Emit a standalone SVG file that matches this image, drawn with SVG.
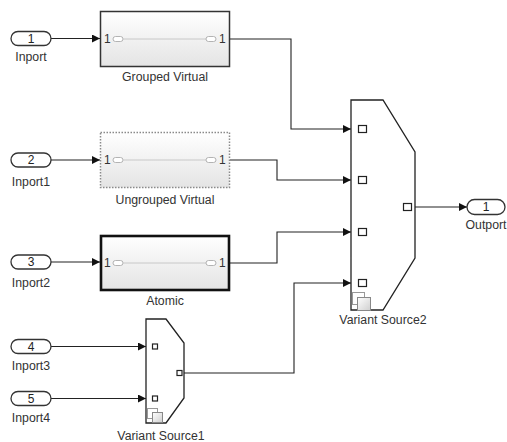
<svg xmlns="http://www.w3.org/2000/svg" width="507" height="442" viewBox="0 0 507 442">
<style>
.lbl{font-family:"Liberation Sans",Arial,sans-serif;font-size:12.3px;fill:#333;text-anchor:middle}
.num{font-family:"Liberation Sans",Arial,sans-serif;font-size:12px;fill:#222;text-anchor:middle}
.pn{font-family:"Liberation Sans",Arial,sans-serif;font-size:12px;fill:#333}
.cap{fill:#fff;stroke:#333;stroke-width:1.3}
.wire{fill:none;stroke:#222;stroke-width:1.1}
.inner{stroke:#c8c8c8;stroke-width:1;fill:none}
.ip{fill:#fff;stroke:#aaa;stroke-width:0.9}
.vs{fill:#fff;stroke:#222;stroke-width:1.3}
.sq{fill:#fff;stroke:#222;stroke-width:1.2}
</style>
<defs>
<linearGradient id="g" x1="0" y1="0" x2="0" y2="1">
<stop offset="0" stop-color="#ffffff"/>
<stop offset="1" stop-color="#e4e4e4"/>
</linearGradient>
<linearGradient id="gi" x1="0" y1="0" x2="1" y2="1">
<stop offset="0" stop-color="#ffffff"/>
<stop offset="1" stop-color="#cfcfcf"/>
</linearGradient>
<marker id="ar" viewBox="0 0 10 10" refX="10" refY="5" markerWidth="9" markerHeight="8" markerUnits="userSpaceOnUse" orient="auto">
<path d="M0,0 L10,5 L0,10 z" fill="#111"/>
</marker>
</defs>

<g id="connectors">
<path class="wire" d="M51,38.5 H100" marker-end="url(#ar)"/>
<path class="wire" d="M51,160 H100" marker-end="url(#ar)"/>
<path class="wire" d="M51,262 H100" marker-end="url(#ar)"/>
<path class="wire" d="M51,346.5 H146" marker-end="url(#ar)"/>
<path class="wire" d="M51,398.5 H146" marker-end="url(#ar)"/>
<path class="wire" d="M230,39 H291 V129 H351" marker-end="url(#ar)"/>
<path class="wire" d="M230,160 H277 V180 H351" marker-end="url(#ar)"/>
<path class="wire" d="M230,263 H277 V232 H351" marker-end="url(#ar)"/>
<path class="wire" d="M182,373 H294 V283 H351" marker-end="url(#ar)"/>
<path class="wire" d="M412,207 H467" marker-end="url(#ar)"/>
</g>

<g id="inport">
<rect class="cap" x="11" y="31.5" width="40" height="14" rx="7"/>
<text class="num" x="31" y="42.5">1</text>
<text class="lbl" x="31" y="61">Inport</text>
</g>
<g id="inport1">
<rect class="cap" x="11" y="153" width="40" height="14" rx="7"/>
<text class="num" x="31" y="164">2</text>
<text class="lbl" x="31" y="186">Inport1</text>
</g>
<g id="inport2">
<rect class="cap" x="11" y="255" width="40" height="14" rx="7"/>
<text class="num" x="31" y="266">3</text>
<text class="lbl" x="31" y="287">Inport2</text>
</g>
<g id="inport3">
<rect class="cap" x="11" y="339.5" width="40" height="14" rx="7"/>
<text class="num" x="31" y="350.5">4</text>
<text class="lbl" x="31" y="370">Inport3</text>
</g>
<g id="inport4">
<rect class="cap" x="11" y="391.5" width="40" height="14" rx="7"/>
<text class="num" x="31" y="402.5">5</text>
<text class="lbl" x="31" y="422">Inport4</text>
</g>

<g id="grouped-virtual">
<rect x="100.5" y="11.5" width="129" height="55" fill="url(#g)" stroke="#333" stroke-width="1.5"/>
<text class="pn" x="104" y="43">1</text>
<rect class="ip" x="113" y="36.5" width="10" height="5" rx="2.5"/>
<line class="inner" x1="123" y1="39" x2="206" y2="39"/>
<rect class="ip" x="206" y="36.5" width="10" height="5" rx="2.5"/>
<text class="pn" x="219" y="43">1</text>
<text class="lbl" x="165" y="81">Grouped Virtual</text>
</g>

<g id="ungrouped-virtual">
<rect x="100.5" y="132.5" width="129" height="55" fill="url(#g)" stroke="#8a8a8a" stroke-width="1.5" stroke-dasharray="1.5,1.5"/>
<text class="pn" x="104" y="164">1</text>
<rect class="ip" x="113" y="157.5" width="10" height="5" rx="2.5"/>
<line class="inner" x1="123" y1="160" x2="206" y2="160"/>
<rect class="ip" x="206" y="157.5" width="10" height="5" rx="2.5"/>
<text class="pn" x="219" y="164">1</text>
<text class="lbl" x="165" y="204">Ungrouped Virtual</text>
</g>

<g id="atomic">
<rect x="101" y="236" width="128" height="54" fill="url(#g)" stroke="#111" stroke-width="2.6"/>
<text class="pn" x="104" y="267">1</text>
<rect class="ip" x="113" y="260.5" width="10" height="5" rx="2.5"/>
<line class="inner" x1="123" y1="263" x2="206" y2="263"/>
<rect class="ip" x="206" y="260.5" width="10" height="5" rx="2.5"/>
<text class="pn" x="219" y="267">1</text>
<text class="lbl" x="165" y="305">Atomic</text>
</g>

<g id="variant-source1">
<polygon class="vs" points="146,319 166,319 184,343 184,398 166,423 146,423"/>
<rect class="sq" x="152.5" y="344" width="5" height="5"/>
<rect class="sq" x="152.5" y="396" width="5" height="5"/>
<rect class="sq" x="177" y="370.5" width="5" height="5"/>
<rect x="147.5" y="408.5" width="10" height="10" fill="#fff" stroke="#999" stroke-width="1"/>
<rect x="152.5" y="412.5" width="10" height="10" fill="url(#gi)" stroke="#888" stroke-width="1"/>
<text class="lbl" x="161" y="440">Variant Source1</text>
</g>

<g id="variant-source2">
<polygon class="vs" points="351,100 383,100 415,152 415,258 383,310 351,310"/>
<rect class="sq" x="358.5" y="125.5" width="8" height="7"/>
<rect class="sq" x="358.5" y="176.5" width="8" height="7"/>
<rect class="sq" x="358.5" y="228.5" width="8" height="7"/>
<rect class="sq" x="358.5" y="279.5" width="8" height="7"/>
<rect class="sq" x="403.5" y="203.5" width="8" height="7"/>
<rect x="352.5" y="292.5" width="12" height="12" fill="#fff" stroke="#999" stroke-width="1"/>
<rect x="357.5" y="297.5" width="13" height="13" fill="url(#gi)" stroke="#888" stroke-width="1"/>
<text class="lbl" x="383" y="324">Variant Source2</text>
</g>

<g id="outport">
<rect class="cap" x="467" y="199.5" width="38" height="15" rx="7.5"/>
<text class="num" x="486" y="211">1</text>
<text class="lbl" x="486" y="229">Outport</text>
</g>
</svg>
